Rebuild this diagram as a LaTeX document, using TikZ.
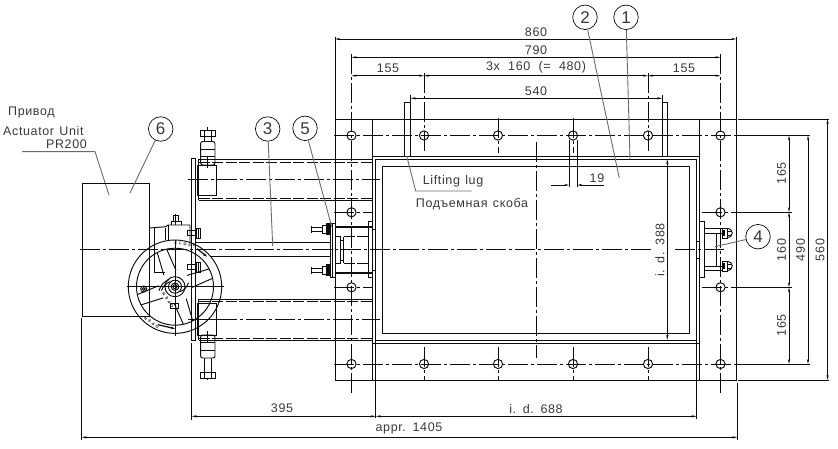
\documentclass[tikz,border=0pt]{standalone}
\usepackage{fontspec}
\setmainfont{Liberation Sans}[LetterSpace=5,WordSpace=1.3]
\usetikzlibrary{arrows.meta}
\definecolor{ink}{gray}{0.05}
\definecolor{lead}{gray}{0.42}
\definecolor{txtc}{gray}{0.22}
\tikzset{
  thin line/.style={line width=0.8pt,draw=ink},
  main/.style={line width=0.95pt,draw=ink},
  heavy/.style={line width=1.8pt,draw=ink},
  axis/.style={line width=0.9pt,draw=ink,dash pattern=on 20pt off 3pt on 3pt off 3pt},
  hidden/.style={line width=0.85pt,draw=ink,dash pattern=on 11pt off 2.5pt},
  dimline/.style={line width=0.8pt,draw=ink,{Stealth[length=5pt,width=2.2pt]}-{Stealth[length=5pt,width=2.2pt]}},
  leader/.style={line width=0.9pt,draw=lead},
  balloon/.style={circle,draw=ink,line width=0.7pt,minimum size=24.5pt,inner sep=0pt,font=\fontsize{17}{17}\selectfont,text=txtc},
  lbl/.style={inner sep=0pt,text=txtc,font=\fontsize{12.5}{13}\selectfont},
  tiny/.style={inner sep=0pt,text=ink,font=\fontsize{4}{5}\selectfont\bfseries\addfontfeature{LetterSpace=45}},
}
\newcommand{\holemark}[2]{\draw[main] (#1,#2) circle[radius=4.6pt];}
\begin{document}
\begin{tikzpicture}[x=1pt,y=-1pt]
\useasboundingbox (0,0) rectangle (838,449);
% ---------- frame
\draw[main] (335,119) rectangle (736,380);
\draw[main] (372.5,119) -- (372.5,380);
\draw[main] (699,119) -- (699,380);
\draw[main] (372.5,156) -- (699,156);
\draw[main] (372.5,343.3) -- (699,343.3);
\draw[main] (375.8,159) rectangle (696.7,340.3);
\draw[main] (382,166.3) rectangle (689,333.3);
\draw[main] (375.8,159) -- (375.8,418);
\draw[main] (696.7,340) -- (696.7,419);
% ---------- holes
\foreach \x in {351.5,424,498,573,648,720.5}{\holemark{\x}{135.5}\holemark{\x}{364}}
\foreach \x in {351.5,720.5}{\holemark{\x}{212.3}\holemark{\x}{287.3}}
% ---------- centre lines
\draw[axis] (334,135.5) -- (736,135.5);
\draw[axis] (334,364) -- (736,364);
\draw[axis] (351.5,54) -- (351.5,395);
\draw[axis] (720.5,54) -- (720.5,395);
\draw[axis] (424,73) -- (424,153);
\draw[axis] (648,73) -- (648,153);
\draw[axis] (498,118) -- (498,153);
\draw[axis] (573,118) -- (573,153);
\draw[axis] (424,347) -- (424,381);
\draw[axis] (498,347) -- (498,381);
\draw[axis] (573,347) -- (573,381);
\draw[axis] (648,347) -- (648,381);
\draw[axis] (536.5,142) -- (536.5,357.7);
\draw[axis] (334,212.3) -- (372,212.3);
\draw[axis] (334,287.3) -- (372,287.3);
\draw[axis] (702,212.3) -- (736,212.3);
\draw[axis] (702,287.3) -- (736,287.3);
\draw[axis] (80,249.7) -- (651,249.7);
\draw[axis] (675,249.7) -- (725,249.7);
\draw[axis] (188,179.3) -- (380,179.3);
\draw[axis] (188,319.3) -- (380,319.3);
\draw[line width=1.6pt,draw=ink] (191.7,319.3) -- (216.7,319.3);
% ---------- lifting lugs
\draw[main] (404.7,156) -- (404.7,102.3) -- (410.3,102.3) -- (410.3,156);
\draw[main] (662.3,156) -- (662.3,102.3) -- (667.6,102.3) -- (667.6,156);
% ---------- dimension extension lines
\draw[thin line] (335,37) -- (335,119);
\draw[thin line] (736.3,37) -- (736.3,119);
\draw[thin line] (410.7,95) -- (410.7,102);
\draw[thin line] (662.3,95) -- (662.3,102);
\draw[thin line] (738,119) -- (829,119);
\draw[thin line] (738,380) -- (829,380);
\draw[thin line] (736,135.5) -- (810,135.5);
\draw[thin line] (736,364) -- (810,364);
\draw[thin line] (736,212.3) -- (792,212.3);
\draw[thin line] (736,287.3) -- (792,287.3);
\draw[thin line] (81.7,318) -- (81.7,440);
\draw[thin line] (191.7,343) -- (191.7,420);
\draw[thin line] (737.3,383) -- (737.3,440);
\draw[thin line] (569.3,140) -- (569.3,187);
\draw[thin line] (577.3,140) -- (577.3,187);
% ---------- dimensions
\draw[dimline] (335,39) -- (736.3,39);
\draw[dimline] (351.5,57.3) -- (720.5,57.3);
\draw[dimline] (351.5,75.7) -- (424,75.7);
\draw[dimline] (424,75.7) -- (648,75.7);
\draw[dimline] (648,75.7) -- (720.5,75.7);
\draw[dimline] (410.7,98.3) -- (662.3,98.3);
\draw[dimline] (667.3,159) -- (667.3,340);
\draw[thin line,-{Stealth[length=5pt,width=2.2pt]}] (551,185) -- (569.3,185);
\draw[thin line,-{Stealth[length=5pt,width=2.2pt]}] (604,185) -- (577.3,185);
\draw[dimline] (789,135.5) -- (789,212.3);
\draw[dimline] (789,212.3) -- (789,287.3);
\draw[dimline] (789,287.3) -- (789,364);
\draw[dimline] (808,135.5) -- (808,364);
\draw[dimline] (827.6,119) -- (827.6,380);
\draw[dimline] (191.7,416.3) -- (375.8,416.3);
\draw[dimline] (375.8,416.3) -- (696.7,416.3);
\draw[dimline] (81.7,437.3) -- (737.3,437.3);
% ---------- dimension labels
\node[lbl] (d860) at (536,32) {860};
\node[lbl] (d790) at (536,50) {790};
\node[lbl] (d155a) at (388,68) {155};
\node[lbl] (d480) at (536,67.5) {3x\hspace{3pt} 160\hspace{3pt} (=\hspace{3pt} 480)};
\node[lbl] (d155b) at (684,68) {155};
\node[lbl] (d540) at (536,91) {540};
\node[lbl] (d19) at (597,178) {19};
\node[lbl,rotate=90] (d165a) at (781.5,173.5) {165};
\node[lbl,rotate=90] (d160) at (781.5,250) {160};
\node[lbl,rotate=90] (d165b) at (781.5,325.5) {165};
\node[lbl,rotate=90] (d490) at (800.5,250) {490};
\node[lbl,rotate=90] (d560) at (820,250) {560};
\node[lbl,rotate=90] (d388) at (660,250) {i. d. 388};
\node[lbl] (d395) at (282,408.5) {395};
\node[lbl] (d688) at (536,409) {i. d. 688};
\node[lbl] (d1405) at (409,428) {appr. 1405};
% ---------- text notes
\node[lbl,anchor=west] (t1) at (8,112) {Привод};
\node[lbl,anchor=west] (t2) at (3,131) {Actuator Unit};
\node[lbl,anchor=east] (t3) at (87,144) {PR200};
\node[lbl,anchor=west] (t4) at (422.7,181) {Lifting lug};
\node[lbl,anchor=west] (t5) at (415.7,204) {Подъемная скоба};
\coordinate (la) at (109,195);
\coordinate (lb) at (406.7,156);
\draw[leader] (22,151.7) -- (95,151.7) -- (la);
\draw[leader] (lb) -- (415.7,191) -- (471.7,191);
% ---------- actuator
\draw[main] (82.5,183.3) rectangle (149.3,316.7);
% ---------- left plate + cylinders
\draw[main] (191.7,158.3) rectangle (195.7,340.7);
\draw[main] (198.5,159.5) -- (372.5,159.5);
\draw[hidden] (198.5,162) -- (372.5,162);
\draw[hidden] (198.5,198) -- (372.5,198);
\draw[main] (198.5,200) -- (372.5,200);
\draw[main] (198.5,159.5) -- (198.5,200);
\draw[main] (198.5,299.3) -- (372.5,299.3);
\draw[hidden] (198.5,301.7) -- (372.5,301.7);
\draw[hidden] (198.5,338.3) -- (372.5,338.3);
\draw[main] (198.5,340.3) -- (372.5,340.3);
\draw[main] (198.5,299.3) -- (198.5,340.3);
\draw[main] (197,165) rectangle (216.7,195);
\draw[main] (197,303) rectangle (216.7,335);
% spindle
\draw[main] (195.7,242.3) -- (330,242.3);
\draw[main] (210,256.5) -- (330,256.5);
% ---------- yoke bolts top/bottom
\draw[main] (207,127) -- (207,130);
\draw[main] (200,130) rectangle (215.7,136.5);
\draw[main] (204,130) -- (204,141.5) (211,130) -- (211,141.5);
\draw[main,rounded corners=2pt] (200.7,141.5) rectangle (215,165);
\draw[main] (200.7,149) -- (215,149) (200.7,156.5) -- (215,156.5) (207,156) -- (207,168);
\draw[main,rounded corners=2pt] (200.7,335) rectangle (215,358);
\draw[main] (200.7,342.5) -- (215,342.5) (200.7,350) -- (215,350) (207,331) -- (207,342);
\draw[main] (200,372) rectangle (215.7,378);
\draw[main] (204,358) -- (204,378) (211,358) -- (211,378) (207,378) -- (207,380);
% ---------- bracket (5)
\draw[heavy] (332.5,223) -- (332.5,277);
\draw[main] (330,223) rectangle (335,277);
\draw[heavy] (335,226.7) -- (372.5,226.7);
\draw[heavy] (335,272.7) -- (372.5,272.7);
\draw[main] (368.3,221) rectangle (372.5,277);
\draw[main] (335,236.5) -- (340,236.5) -- (340,263.5) -- (335,263.5);
\draw[main] (340,240) -- (343.5,240) -- (343.5,260) -- (340,260);
\draw[hidden] (343.5,236.7) -- (368.3,236.7);
\draw[hidden] (343.5,263.3) -- (368.3,263.3);
\draw[main] (343.5,236.7) -- (343.5,263.3);
\draw[main] (372.5,229) -- (376,229) (372.5,270.5) -- (376,270.5);
\foreach \yy in {229.3,270.3}{
  \draw[main] (311,\yy-2) -- (322,\yy-2) (311,\yy+2) -- (322,\yy+2) (311.5,\yy-3.5) -- (311.5,\yy+3.5);
  \draw[main] (322,\yy-4) rectangle (326,\yy+4);
  \fill[ink] (326,\yy-6) rectangle (330,\yy+6);
}
% ---------- bracket (4)
\draw[main] (699.3,221.7) rectangle (704.3,277.3);
\draw[main] (696.7,241.7) rectangle (699.3,258);
\draw[main] (704.3,228.3) -- (722,228.3) (704.3,233.3) -- (722,233.3);
\draw[main] (704.3,266.7) -- (722,266.7) (704.3,270.7) -- (722,270.7);
\draw[main] (716,233.3) -- (716,266.7);
\foreach \yy in {233,266}{
  \draw[main] (722,\yy-5) rectangle (727,\yy+5);
  \fill[ink] (722,\yy-3) rectangle (725,\yy+3);
  \draw[main] (727,\yy-4.5) .. controls (734,\yy-4.5) and (734,\yy+4.5) .. (727,\yy+4.5);
  \draw[main] (727,\yy-2) -- (731,\yy-2) (727,\yy+2) -- (731,\yy+2);
}
% ---------- gearbox behind wheel
\draw[main] (149.3,228) -- (166,226.7) -- (168,225) -- (190,225) -- (190,243);
\draw[main] (168,225) -- (168,240);
\draw[main] (154.5,228) -- (154.5,272) -- (165,272);
\draw[main] (165.7,228) -- (165.7,240);
\draw[main] (171,225) -- (171,221) -- (181,221) -- (181,225);
\draw[main] (173,221) -- (173,215) -- (178,215) -- (178,221);
\draw[main] (175.5,214) -- (175.5,225);
\foreach \yy in {233,267}{
  \draw[main] (187.3,\yy-2.5) rectangle (196,\yy+2.5);
  \draw[main] (196,\yy-5) rectangle (200,\yy+5);
  \draw[main] (198,\yy-5) -- (198,\yy+5);
}
% ---------- hand wheel
\begin{scope}[shift={(175,286.7)}]
  \draw[main] (0,0) circle[radius=46.7pt];
  \draw[main] (0,0) circle[radius=38.5pt];
  \draw[thin line] (-48,0) -- (49,0);
  \draw[thin line] (0,-47) -- (0,49);
  \begin{scope}[rotate=20]
    \draw[main] (-38,-5.5) -- (-15,-6.5) (-38,5.5) -- (-15,6.5);
    \draw[main] (38,-5) -- (15,-6.5) (38,5) -- (15,6.5);
    \draw[main] (-5,-38) -- (-6.5,-15) (5,-38) -- (6.5,-15);
    \draw[main] (-5,38) -- (-6.5,15) (5,38) -- (6.5,15);
  \end{scope}
  \draw[main] (0,0) circle[radius=10pt];
  \draw[main] (0,0) circle[radius=6.5pt];
  \draw[main] (0,0) circle[radius=3.8pt];
  \draw[main] (0,0) circle[radius=2pt];
  \draw[main] (-13.5,4) arc[start angle=163,end angle=110,radius=14pt];
  \draw[main] (-16,4) arc[start angle=165,end angle=110,radius=16.5pt];
  \draw[main] (13.5,-4) arc[start angle=-17,end angle=-70,radius=14pt];
  \draw[main] (-31.3,2.3) circle[radius=3pt];
  \draw[main] (-31.3,2.3) circle[radius=1.4pt];
  \draw[main] (-5,16.5) rectangle (3,21.5);
  \node[tiny,rotate=-8] (closelabel) at (10,-42.5) {CLOSE};
  \node[tiny,rotate=146] (openlabel) at (-23.5,36) {OPEN};
  \node[tiny,rotate=125] (openhub) at (-7,13.5) {OPEN};
  \draw[line width=1.2pt,draw=ink,-{Stealth[length=4pt,width=2.5pt]}] (22,-38) -- (32,-30);
  \draw[line width=1.2pt,draw=ink,-{Stealth[length=4pt,width=2.5pt]}] (-17,38) -- (0,42);
\end{scope}
% ---------- balloons
\node[balloon] (b6) at (160.7,129) {6};
\node[balloon] (b3) at (267.7,129) {3};
\node[balloon] (b5) at (305,128.3) {5};
\node[balloon] (b2) at (585,17.3) {2};
\node[balloon] (b1) at (626,17.3) {1};
\node[balloon] (b4) at (758,236.7) {4};
\coordinate (p6) at (130,193);
\coordinate (p3) at (272.7,246);
\coordinate (p5) at (331.7,226.7);
\coordinate (p2) at (619.3,178);
\coordinate (p1) at (630,159);
\coordinate (p4) at (715,246.7);
\draw[leader] (b6) -- (p6);
\draw[leader] (b3) -- (p3);
\draw[leader] (b5) -- (p5);
\draw[leader] (b2) -- (p2);
\draw[leader] (b1) -- (p1);
\draw[leader] (b4) -- (p4);
\end{tikzpicture}
\end{document}
